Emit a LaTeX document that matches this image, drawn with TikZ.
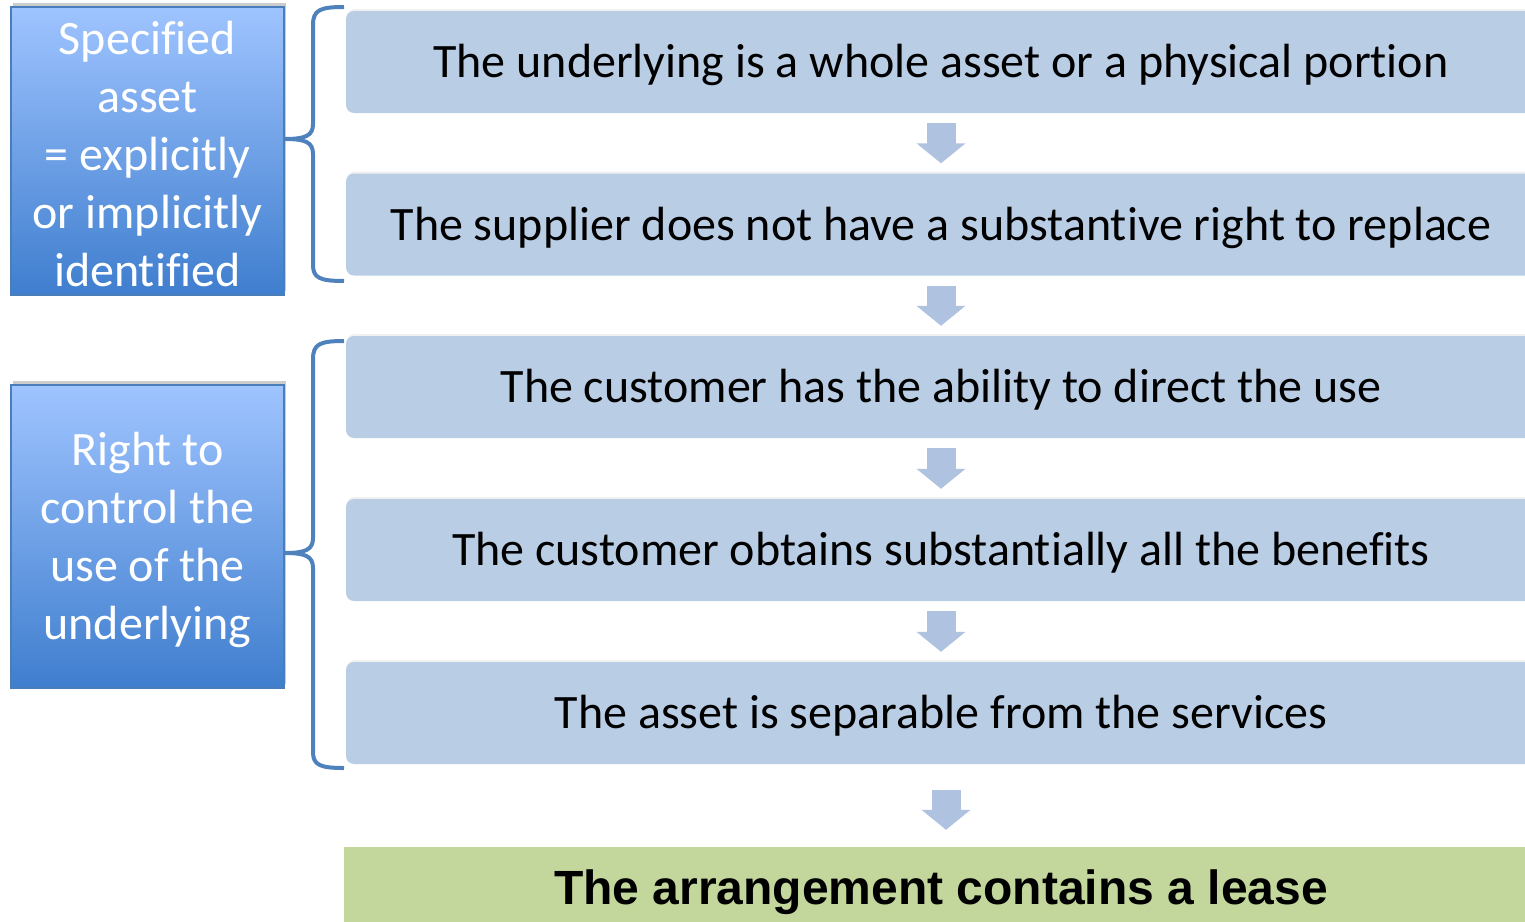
\documentclass[tikz,border=0pt]{standalone}
\usepackage{xcolor}
\usepackage{fontspec}
\setmainfont{Carlito}[Ligatures=NoCommon]
\newfontfamily\leasefont{Liberation Sans}
\usepackage{tikz}
\usetikzlibrary{arrows.meta,shadows}

\definecolor{stepfill}{HTML}{B9CDE5}
\definecolor{arrowfill}{HTML}{AFC3E0}
\definecolor{bracecol}{HTML}{4F81BD}
\definecolor{leasefill}{HTML}{C3D69B}
\definecolor{topblue}{HTML}{9FC4FF}
\definecolor{botblue}{HTML}{3F7ECE}
\definecolor{sideline}{HTML}{4A7EBB}

\newcommand{\toprule}{\rule{0pt}{40pt}}

\tikzset{
	stepbox/.style={fill=stepfill, rounded corners=8, minimum width=1190, minimum height=102,
		text height=40, text depth=9,
		font=\fontsize{48}{58}\selectfont,
		drop shadow={opacity=0.12, shadow xshift=1, shadow yshift=-2}},
	sidebox/.style={draw=sideline, line width=1.2, top color=topblue, bottom color=botblue,
		minimum width=273, align=center, text=white, inner sep=0,
		font=\fontsize{48}{58}\selectfont,
		drop shadow={opacity=0.4, shadow xshift=2, shadow yshift=-4}},
	leasebox/.style={fill=leasefill, minimum width=1194, minimum height=90,
		font=\leasefont\bfseries\fontsize{48}{58}\selectfont},
	blockarrow/.style={draw=arrowfill, line width=29, -{Triangle[width=48,length=20]}},
	brace/.style={draw=bracecol, line width=4}
}

\begin{document}
\begin{tikzpicture}[x=1pt,y=-1pt]
		\useasboundingbox (0,0) rectangle (1525,921);
		\clip (0,0) rectangle (1525,921);
		% left boxes
		\node[sidebox, minimum height=288] (spec) at (147.5,151) {\toprule Specified\\asset\\= explicitly\\or implicitly\\identified};
		\node[sidebox, minimum height=303] (ctrl) at (147.5,536.5) {\toprule Right to\\control the\\use of the\\underlying};
		% steps
		\node[stepbox] (whole) at (941,62) {The underlying is a whole asset or a physical portion};
		\node[stepbox] (replace) at (941,224.5) {The supplier does not have a substantive right to replace};
		\node[stepbox] (direct) at (941,387) {The customer has the ability to direct the use};
		\node[stepbox] (benefit) at (941,550) {The customer obtains substantially all the benefits};
		\node[stepbox] (separ) at (941,713) {The asset is separable from the services};
		\node[leasebox] (lease) at (941,892) {The arrangement contains a lease};
		% arrows
		\draw[blockarrow, shorten <=10, shorten >=10] (whole.south) -- (replace.north);
		\draw[blockarrow, shorten <=10, shorten >=10] (replace.south) -- (direct.north);
		\draw[blockarrow, shorten <=10, shorten >=10] (direct.south) -- (benefit.north);
		\draw[blockarrow, shorten <=10, shorten >=10] (benefit.south) -- (separ.north);
		\draw[blockarrow, shorten <=26, shorten >=17] ([xshift=5]separ.south) -- ([xshift=5]lease.north);
		% braces
		\coordinate (A1) at (344,7);
		\coordinate (A2) at (344,281);
		\coordinate (At) at (spec.east |- 0,139);
		\draw[brace] (A1) .. controls (320,7) and (313,10) .. (313,25) -- (313,124)
			.. controls (313,136) and (305,139) .. (At)
			.. controls (305,139) and (313,142) .. (313,154) -- (313,265)
			.. controls (313,278) and (320,281) .. (A2);
		\coordinate (B1) at (344,341);
		\coordinate (B2) at (344,768);
		\coordinate (Bt) at (ctrl.east |- 0,553);
		\draw[brace] (B1) .. controls (320,341) and (313,344) .. (313,359) -- (313,538)
			.. controls (313,550) and (305,553) .. (Bt)
			.. controls (305,553) and (313,556) .. (313,568) -- (313,752)
			.. controls (313,765) and (320,768) .. (B2);
	\end{tikzpicture}
\end{document}
